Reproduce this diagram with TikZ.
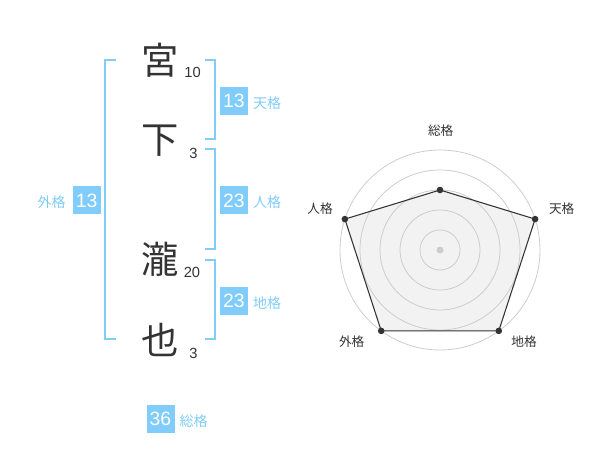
\documentclass[tikz,border=0pt]{standalone}
\usepackage{fontspec}
\setmainfont{Liberation Sans}
\newfontfamily\cjk{Noto Sans CJK JP}
\usetikzlibrary{positioning}
\definecolor{kaku}{RGB}{128,204,250}
\definecolor{tumma}{RGB}{51,51,51}
\definecolor{verkko}{RGB}{205,205,205}

\begin{document}
\begin{tikzpicture}[x=0.75pt,y=-0.75pt,
  kanji/.style={font=\cjk\fontsize{28}{30}\selectfont,text=tumma,inner sep=0pt},
  luku/.style={font=\fontsize{11}{12}\selectfont,text=tumma,inner sep=0pt},
  laatikko/.style={fill=kaku,text=white,minimum size=21pt,inner sep=0pt,font=\fontsize{14.5}{15}\selectfont},
  nimi/.style={font=\cjk\fontsize{10.5}{12}\selectfont,text=kaku,inner sep=0pt},
  akseli/.style={font=\cjk\fontsize{9.5}{11}\selectfont,text=tumma,inner sep=0pt},
  sulku/.style={color=kaku,line width=1.5pt}]
\useasboundingbox (0,0) rectangle (600,470);

%nimen merkit
\node[kanji] (k1) at (160,60) {宮};
\node[kanji] (k2) at (160,141) {下};
\node[kanji] (k3) at (160,259) {瀧};
\node[kanji] (k4) at (160,340) {也};
\node[luku] (n1) at (192.5,72.5) {10};
\node[luku] (n2) at (193.5,153.5) {3};
\node[luku] (n3) at (192,272.5) {20};
\node[luku] (n4) at (193.5,353.5) {3};

%sulut
\draw[sulku] (116,60) -- (105,60) -- (105,339.3) -- (116,339.3);
\draw[sulku] (205,60) -- (215,60) -- (215,139.3) -- (205,139.3);
\draw[sulku] (205,149.3) -- (215,149.3) -- (215,249.3) -- (205,249.3);
\draw[sulku] (205,260) -- (215,260) -- (215,339.3) -- (205,339.3);

%luvut
\node[laatikko] (ten) at (234,101) {13};
\node[nimi, right=3.5pt of ten, yshift=-1.5pt] (tenL) {天格};
\node[laatikko] (jin) at (234,200.5) {23};
\node[nimi, right=3.5pt of jin, yshift=-1.5pt] (jinL) {人格};
\node[laatikko] (chi) at (234,301) {23};
\node[nimi, right=3.5pt of chi, yshift=-1.5pt] (chiL) {地格};
\node[laatikko] (gai) at (86.7,200.5) {13};
\node[nimi, left=5pt of gai, yshift=-1.5pt] (gaiL) {外格};
\node[laatikko] (sou) at (160.5,419) {36};
\node[nimi, right=3.5pt of sou, yshift=-1.5pt] (souL) {総格};

%tutka
\begin{scope}[shift={(440,250)},yscale=-1]
\coordinate (p1) at (90:60);
\coordinate (p2) at (18:100);
\coordinate (p3) at (-54:100);
\coordinate (p4) at (-126:100);
\coordinate (p5) at (162:100);
\fill[color=gray!10] (p1) -- (p2) -- (p3) -- (p4) -- (p5) -- cycle;
\foreach \r in {20,40,...,100}
{
\draw[color=verkko, line width=0.6pt] (0,0) circle [radius=\r];
}
\fill[color=verkko] (0,0) circle [radius=3.5];
\draw[color=tumma, line width=0.8pt] (p1) -- (p2) -- (p3) -- (p4) -- (p5) -- cycle;
\foreach \p in {p1,p2,p3,p4,p5}
{
\fill[color=tumma] (\p) circle [radius=3.3];
}
\end{scope}
\node[akseli] (a1) at (440.7,130.7) {総格};
\node[akseli] (a2) at (561.7,208.3) {天格};
\node[akseli] (a3) at (524,341.7) {地格};
\node[akseli] (a4) at (351.7,341.7) {外格};
\node[akseli] (a5) at (320,208.3) {人格};
\end{tikzpicture}
\end{document}
